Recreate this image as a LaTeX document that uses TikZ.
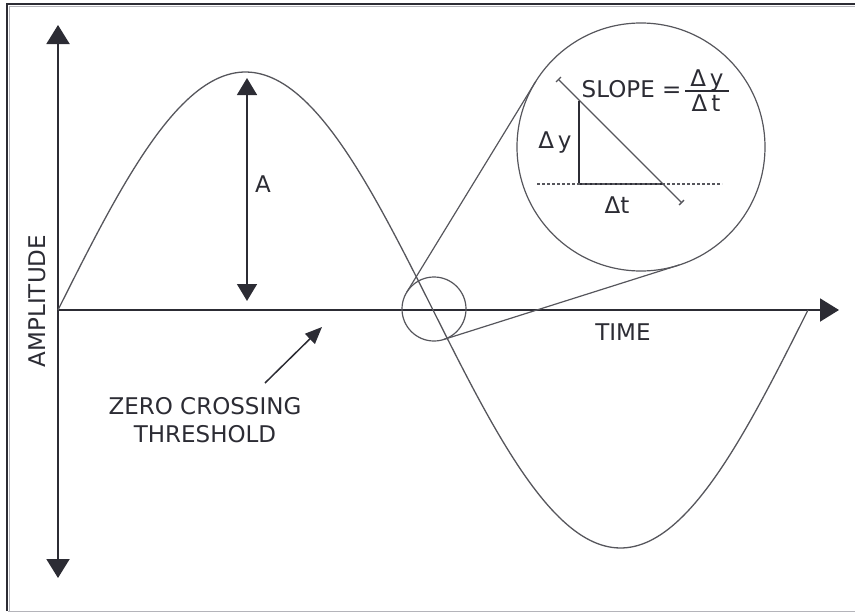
\documentclass[tikz,border=0pt]{standalone}
\usepackage{fontspec}
\setmainfont{DejaVu Sans}
\usetikzlibrary{arrows.meta}
\definecolor{ink}{HTML}{2C2C34}
\definecolor{wave}{HTML}{56565C}
\definecolor{rim}{HTML}{B4B4BA}

\begin{document}
\begin{tikzpicture}[x=1pt,y=-1pt,
    lbl/.style={text=ink,font=\fontsize{23}{28}\selectfont,inner sep=0pt},
    ring/.style={circle,draw=wave,line width=1.2pt,inner sep=0pt,outer sep=0pt},
    bigtip/.style={ink,line width=2pt,-{Triangle[width=23pt,length=19pt]}},
    midtip/.style={ink,line width=1.6pt,{Triangle[width=20pt,length=17pt]}-{Triangle[width=20pt,length=17pt]}}]
  \useasboundingbox (0,0) rectangle (855,613);
  % frame
  \draw[ink,line width=2pt] (7,611) -- (7,4) -- (855,4);
  \draw[rim,line width=1pt] (9.5,611) -- (9.5,6.5) -- (855,6.5);
  \draw[rim,line width=1.5pt] (8,611.5) -- (855,611.5);
  % axes
  \coordinate (ytop) at (58,25);
  \coordinate (ybot) at (58,578);
  \coordinate (orig) at (58,310);
  \coordinate (tend) at (839,310);
  \draw[bigtip] (orig) -- (ytop);
  \draw[bigtip] (orig) -- (ybot);
  \draw[bigtip] (orig) -- (tend);
  \node[lbl,rotate=90] (ampl) at (37,301) {AMPLITUDE};
  \node[lbl] (time) at (623,332) {TIME};
  % wave
  \draw[wave,line width=1.3pt] plot[domain=58:808,samples=200] (\x,{310-238*sin(0.48*(\x-58))});
  % amplitude marker
  \coordinate (peak) at (247,78);
  \coordinate (foot) at (247,301);
  \draw[midtip] (peak) -- (foot);
  \node[lbl] (amp) at (263,184) {A};
  % zero crossing note
  \node[lbl,align=center] (zc) at (205,420) {ZERO CROSSING\\THRESHOLD};
  \coordinate (zctail) at (265,383);
  \coordinate (zchead) at (322,327);
  \draw[ink,line width=1.5pt,-{Triangle[width=14pt,length=17pt]}] (zctail) -- (zchead);
  % magnifier
  \node[ring,minimum size=64pt] (zoom) at (434,309) {};
  \node[ring,minimum size=248pt] (lens) at (641,147) {};
  \draw[wave,line width=1.2pt] (zoom.148.55) -- (lens.148.55);
  \draw[wave,line width=1.2pt] (zoom.-72.45) -- (lens.-72.45);
  % slope inside the lens
  \coordinate (s0) at (558,79);
  \coordinate (s1) at (682,203);
  \coordinate (c0) at (579,101);
  \coordinate (c1) at (579,184);
  \coordinate (c2) at (662,184);
  \draw[wave,line width=1.4pt,{Bar[width=7pt]}-{Bar[width=7pt]}] (s0) -- (s1);
  \draw[ink,line width=1.5pt] (c0) -- (c1) -- (c2);
  \draw[wave,line width=1.2pt,dash pattern=on 3pt off 2pt] (537,184) -- (722,184);
  \node[lbl] (dy) at (555,143) {Δ\,y};
  \node[lbl] (dt) at (617,205) {Δt};
  \node[lbl,anchor=base west] (slope) at (581.5,97.5) {SLOPE =};
  \node[lbl,anchor=base] (num) at (707,86.5) {Δ\,y};
  \node[lbl,anchor=base] (den) at (706,111.5) {Δ\,t};
  \coordinate (bar0) at (685,91);
  \coordinate (bar1) at (729,91);
  \draw[ink,line width=1.4pt] (bar0) -- (bar1);
\end{tikzpicture}
\end{document}
